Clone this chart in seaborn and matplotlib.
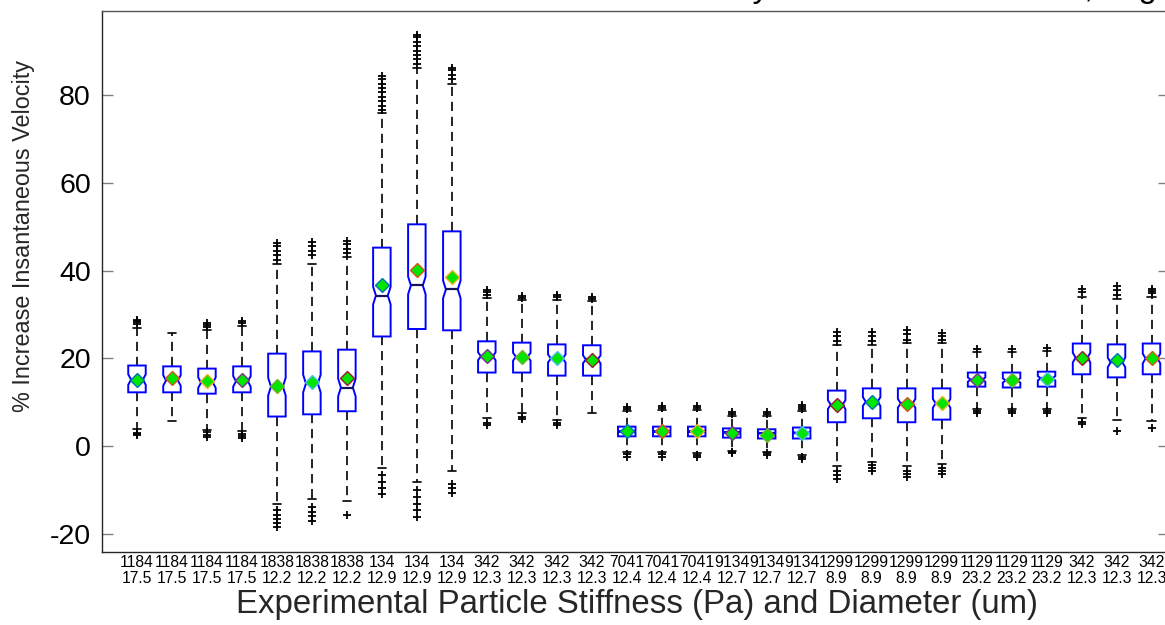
import matplotlib
matplotlib.use("Agg")
import matplotlib.pyplot as plt
import seaborn as sns
from matplotlib.patches import Polygon

# ---------------- data ----------------
stiffness = ["1184", "1184", "1184", "1184", "1838", "1838", "1838", "134", "134", "134",
             "342", "342", "342", "342", "7041", "7041", "7041", "9134", "9134", "9134",
             "1299", "1299", "1299", "1299", "1129", "1129", "1129", "342", "342", "342"]
diameter = ["17.5", "17.5", "17.5", "17.5", "12.2", "12.2", "12.2", "12.9", "12.9", "12.9",
            "12.3", "12.3", "12.3", "12.3", "12.4", "12.4", "12.4", "12.7", "12.7", "12.7",
            "8.9", "8.9", "8.9", "8.9", "23.2", "23.2", "23.2", "12.3", "12.3", "12.3"]

q1 = [12.3, 12.3, 12.0, 12.3, 6.8, 7.3, 8.0, 25.0, 26.7, 26.4,
      16.8, 16.8, 16.1, 16.1, 2.3, 2.3, 2.3, 2.0, 1.8, 1.8,
      5.5, 6.4, 5.5, 6.1, 13.6, 13.4, 13.6, 16.4, 15.7, 16.4]
median = [15.2, 15.0, 14.5, 14.8, 13.6, 14.3, 13.4, 34.3, 36.6, 35.7,
          20.5, 20.4, 20.0, 19.8, 3.4, 3.4, 3.4, 3.2, 3.0, 3.1,
          9.5, 10.2, 9.8, 9.8, 15.2, 15.0, 15.5, 20.2, 19.1, 20.0]
q3 = [18.4, 18.2, 17.7, 18.2, 21.1, 21.6, 22.0, 45.2, 50.5, 48.9,
      23.9, 23.6, 23.2, 23.0, 4.5, 4.5, 4.5, 4.1, 3.9, 4.3,
      12.7, 13.2, 13.2, 13.2, 16.8, 16.8, 17.0, 23.4, 23.2, 23.4]
whisker_lo = [4.0, 5.7, 3.8, 3.6, -13.0, -12.0, -12.5, -5.0, -8.0, -5.5,
              6.5, 7.5, 6.0, 7.5, -1.2, -1.2, -1.5, -1.0, -1.2, -2.0,
              -4.5, -3.5, -4.5, -4.0, 8.5, 8.5, 8.5, 6.5, 5.9, 5.7]
whisker_hi = [27.0, 25.9, 26.5, 27.3, 41.5, 41.5, 43.0, 75.9, 86.0, 82.3,
              33.8, 33.2, 33.3, 33.0, 8.0, 8.2, 8.3, 7.0, 7.0, 8.0,
              23.0, 23.0, 23.5, 23.5, 21.5, 21.5, 21.7, 33.9, 33.5, 34.0]
means = [15.2, 15.6, 14.8, 15.2, 13.7, 14.6, 15.5, 36.6, 40.2, 38.6,
         20.6, 20.4, 20.0, 19.7, 3.4, 3.4, 3.4, 3.0, 2.7, 3.0,
         9.5, 10.2, 9.6, 9.8, 15.1, 15.1, 15.4, 20.1, 19.6, 20.0]
notch_half = [1.2, 1.2, 1.2, 1.2, 2.0, 2.0, 2.0, 2.0, 2.0, 2.0,
              0.9, 0.9, 0.9, 0.9, 0.2, 0.2, 0.2, 0.2, 0.2, 0.2,
              1.0, 1.0, 1.0, 1.0, 0.5, 0.5, 0.5, 1.1, 1.1, 1.1]
outliers_hi = [[27.8, 28.2, 28.5, 28.8], [], [27.2, 27.6, 28.0], [28.0, 28.5],
               [42.5, 43.5, 44.5, 45.5, 46.2], [43.5, 44.5, 45.5, 46.5], [44.0, 45.0, 46.0, 46.8],
               [76.5, 77.5, 78.5, 79.5, 80.5, 81.5, 82.5, 83.5, 84.2],
               [87.0, 88.0, 89.0, 90.0, 91.0, 92.0, 93.0, 93.6],
               [83.5, 84.5, 85.5, 86.0],
               [34.5, 35.0, 35.5], [33.8, 34.3], [33.9, 34.5], [33.6, 34.0],
               [8.5, 9.0], [8.7, 9.2], [8.8, 9.3], [7.4, 7.8], [7.4, 7.9], [8.5, 9.0, 9.4],
               [24.0, 25.0, 26.0], [24.0, 25.0, 26.0], [24.3, 25.5, 26.5], [24.3, 25.0, 25.8],
               [22.2], [22.2], [22.4], [35.2, 35.7], [34.5, 35.5, 36.5], [34.8, 35.4, 35.8]]
outliers_lo = [[3.0, 2.6, 2.9], [], [3.2, 2.6, 2.1], [2.9, 2.4, 1.9],
               [-14.5, -15.5, -16.5, -17.5, -18.3], [-13.8, -14.8, -15.8, -17.0], [-15.5],
               [-6.5, -8.0, -9.5, -10.8], [-10.0, -11.5, -13.0, -14.5, -16.0], [-8.5, -9.5, -10.5],
               [5.3, 4.8], [6.8, 6.2], [5.3, 4.8], [],
               [-1.8, -2.3], [-1.8, -2.4], [-2.0, -2.5], [-1.3, -1.6], [-1.6, -2.0], [-2.4, -2.9],
               [-5.5, -6.5, -7.3], [-4.3, -5.0, -5.5], [-5.5, -6.2, -7.0], [-4.8, -5.6, -6.2],
               [8.0, 7.7], [8.0, 7.7], [8.0, 7.6], [5.6, 5.0], [3.4], [4.3]]

mean_edge_colors = ["#0072BD", "#D95319", "#EDB120", "#7E2F8E", "#77AC30", "#4DBEEE", "#A2142F"]

# ---------------- style ----------------
sns.set_theme(style="ticks")
plt.rcParams["font.family"] = ["Liberation Sans", "DejaVu Sans"]

W, H = 1165, 625
fig = plt.figure(figsize=(W / 100, H / 100), dpi=100)
ax = fig.add_axes([102 / W, 1 - 552 / H, (1169 - 102) / W, (552 - 11) / H])

positions = list(range(1, len(q1) + 1))
stats = []
for i in range(len(q1)):
    stats.append(dict(med=median[i], q1=q1[i], q3=q3[i],
                      whislo=whisker_lo[i], whishi=whisker_hi[i],
                      fliers=outliers_hi[i] + outliers_lo[i], mean=means[i]))

ax.bxp(stats, positions=positions, widths=0.5, showbox=False, showmeans=False,
       showcaps=True, capwidths=0.23,
       whiskerprops=dict(color="black", linewidth=1.2, linestyle=(0, (5.5, 3.5))),
       capprops=dict(color="black", linewidth=1.2),
       medianprops=dict(linewidth=0),
       flierprops=dict(marker="+", markeredgecolor="black", markersize=5.5,
                       markeredgewidth=1.3, linestyle="none"))

half = 0.25
ratio = 0.68
for i, p in enumerate(positions):
    lo, md, hi, n = q1[i], median[i], q3[i], notch_half[i]
    pts = [(p - half, lo), (p - half, md - n), (p - half * ratio, md), (p - half, md + n),
           (p - half, hi), (p + half, hi), (p + half, md + n), (p + half * ratio, md),
           (p + half, md - n), (p + half, lo)]
    ax.add_patch(Polygon(pts, closed=True, facecolor="white", edgecolor="#0000ff",
                         linewidth=1.4, zorder=3))
    ax.plot([p - half * ratio, p + half * ratio], [md, md], color="#14145a",
            linewidth=1.6, zorder=4, solid_capstyle="butt")
    ax.plot([p], [means[i]], marker="D", markersize=7.3, markerfacecolor="#00e600",
            markeredgecolor=mean_edge_colors[i % len(mean_edge_colors)],
            markeredgewidth=1.0, linestyle="none", zorder=5)

ax.set_xlim(0, 30.5)
ax.set_ylim(-24, 99)
ax.set_yticks([-20, 0, 20, 40, 60, 80])
ax.set_yticklabels(["-20", "0", "20", "40", "60", "80"])
ax.set_xticks(positions)
ax.set_xticklabels([f"{s}\n{d}" for s, d in zip(stiffness, diameter)],
                   fontsize=11.3, linespacing=1.1)

ax.tick_params(axis="x", length=0, pad=2, colors="#262626", labelcolor="black")
ax.tick_params(axis="y", direction="in", length=8, width=1, colors="#808080",
               labelcolor="black", labelsize=20.5, pad=8, right=True)
for side in ["left", "bottom", "top", "right"]:
    ax.spines[side].set_visible(True)
    ax.spines[side].set_color("#262626")
    ax.spines[side].set_linewidth(1.0)
ax.spines["top"].set_color("#555555")

ax.set_xlabel("Experimental Particle Stiffness (Pa) and Diameter (um)", fontsize=23.8)
ax.xaxis.label.set_va("center")
ax.xaxis.set_label_coords((637 - 102) / 1067, (552 - 605) / 541)
ax.set_ylabel("% Increase Insantaneous Velocity", fontsize=16.8)
ax.yaxis.label.set_va("center")
ax.yaxis.set_label_coords((24 - 102) / 1067, (552 - 236) / 541)

# title sits mostly above the visible canvas, as in the reference
fig.text(1157 / W, 1 + 3 / H,
         "Percent Increase in Instantaneous Velocity Relative to Bulk Flow, Avg",
         ha="right", va="baseline", fontsize=23.8, color="black")

fig.savefig("out.png", dpi=100)
